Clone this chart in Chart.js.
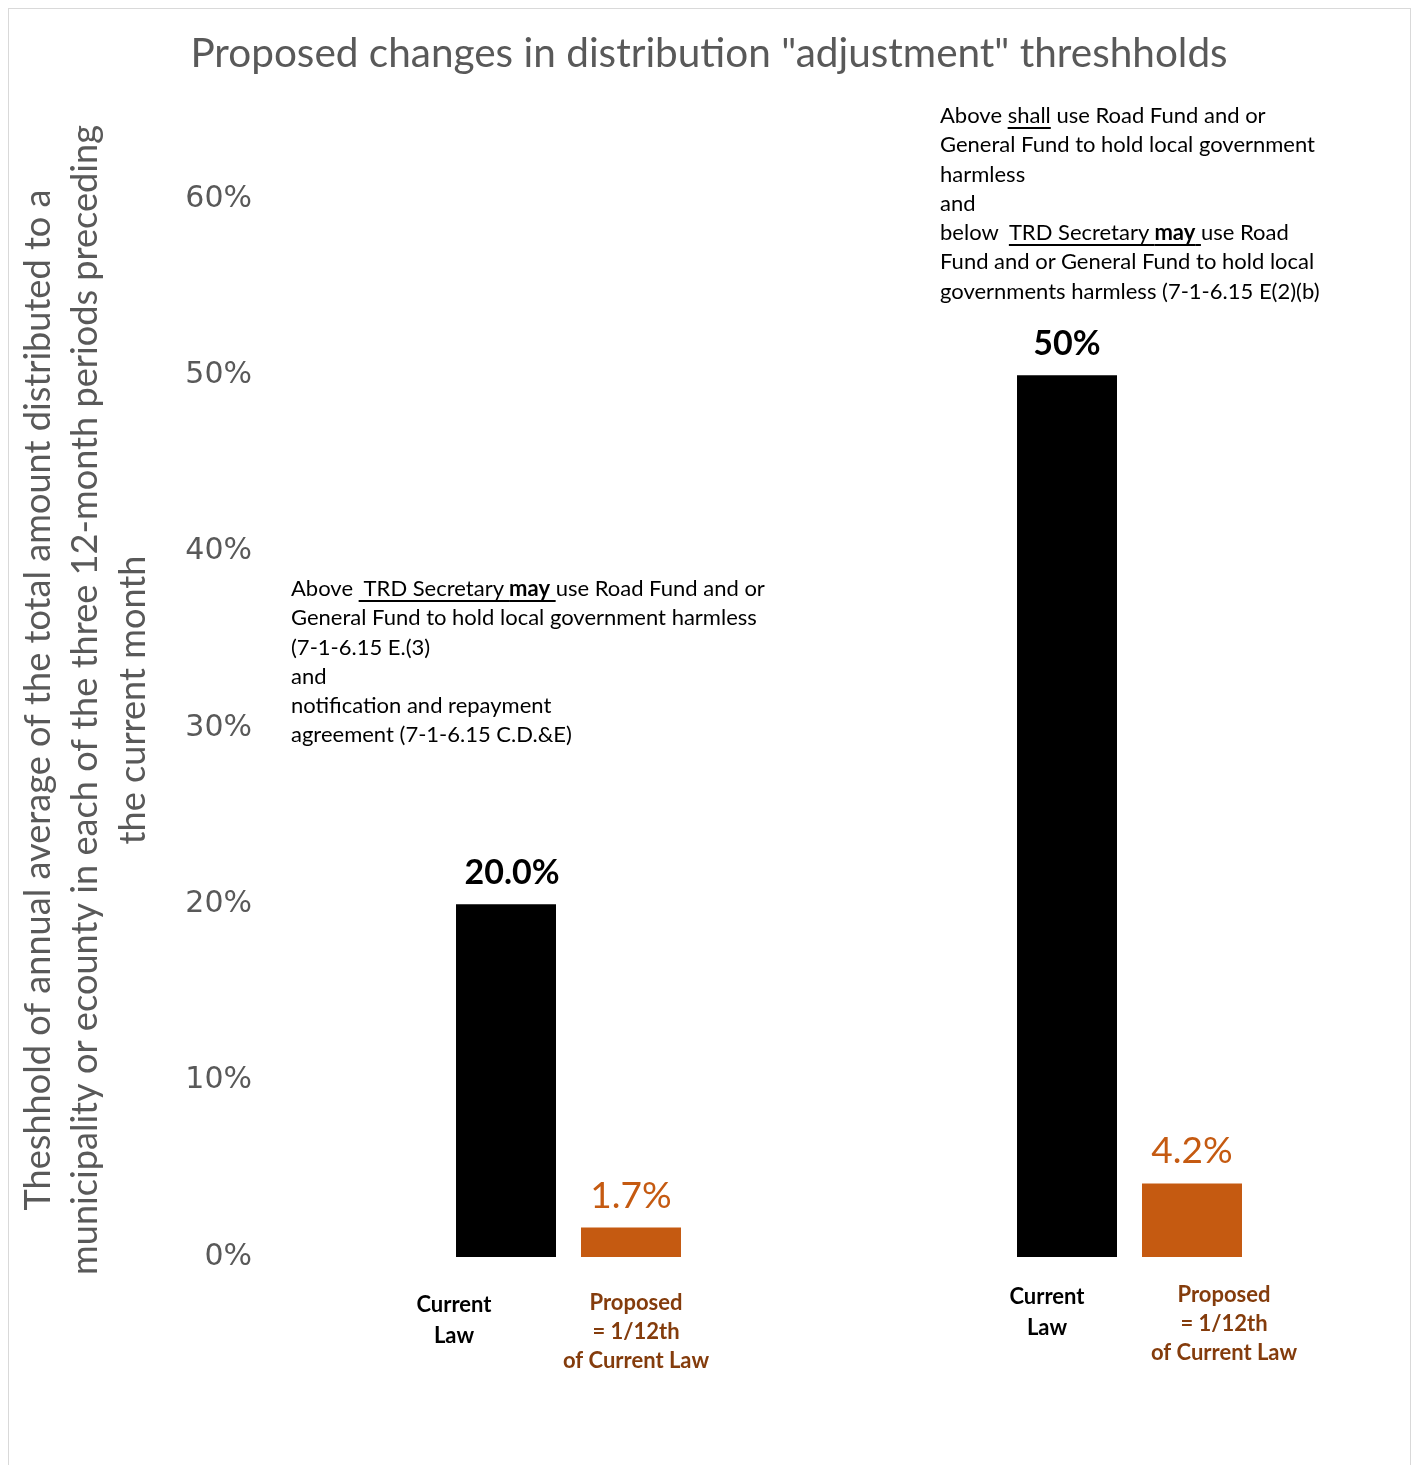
<!DOCTYPE html>
<html>
<head>
<meta charset="utf-8">
<script src="https://cdn.jsdelivr.net/npm/chart.js@4.4.1/dist/chart.umd.min.js"></script>
<style>
  body { margin: 0; background: #fff; }
  #wrap { position: relative; width: 1416px; height: 1465px; overflow: hidden; }
  #frame { position: absolute; left: 8px; top: 8px; width: 1401px; height: 1480px; border: 1px solid #d9d9d9; }
  canvas { position: absolute; left: 0; top: 0; }
  .note { position: absolute; font-family: Lato, sans-serif; font-size: 22px; line-height: 29.3px; color: #000; white-space: nowrap; }
  .note u { text-underline-offset: 4px; }
</style>
</head>
<body>
<div id="wrap">
  <div id="frame"></div>
  <canvas id="myChart" width="1416" height="1465"></canvas>
  <div class="note" style="left:291px;top:573px;">
    Above <u>&nbsp;TRD Secretary <b>may</b>&nbsp;</u>use Road Fund and or<br>
    General Fund to hold local government harmless<br>
    (7-1-6.15 E.(3)<br>
    and<br>
    notification and repayment<br>
    agreement (7-1-6.15 C.D.&amp;E)
  </div>
  <div class="note" style="left:940px;top:100px;">
    Above <u>shall</u> use Road Fund and or<br>
    General Fund to hold local government<br>
    harmless<br>
    and<br>
    below &nbsp;<u>TRD Secretary <b>may</b>&nbsp;</u>use Road<br>
    Fund and or General Fund to hold local<br>
    governments harmless (7-1-6.15 E(2)(b)
  </div>
</div>
<script>
// two thresholds, current law vs proposed (1/12th)
const groups = ['Lower threshold', 'Upper threshold'];
const currentLaw = [20, 50];
const proposed = [1.67, 4.17];
const currentText = ['20.0%', '50%'];
const proposedText = ['1.7%', '4.2%'];
const currentName = ['Current', 'Law'];
const proposedName = ['Proposed', '= 1/12th', 'of Current Law'];
const yTitle = [
  'Theshhold of annual average of the total amount distributed to a',
  'municipality or ecounty in each of the three 12-month periods preceding',
  'the current month'
];

const orange = '#C55A11';
const brown = '#843C0C';
const grey = '#595959';

// hand placed text boxes in the original, so offsets per group
const nameShiftCurrent = [-52, -20];
const nameShiftProposed = [5, 32];
const nameTop = [1312, 1304];
const valueShift = [6, 0];

let ctx = document.getElementById('myChart').getContext('2d');

const barText = {
  id: 'barText',
  afterDatasetsDraw(chart) {
    const c = chart.ctx;
    const cur = chart.getDatasetMeta(0).data;
    const prop = chart.getDatasetMeta(1).data;
    c.save();
    c.textAlign = 'center';
    c.textBaseline = 'alphabetic';

    cur.forEach((bar, i) => {
      c.fillStyle = '#000';
      c.font = 'bold 34px Lato';
      c.fillText(currentText[i], bar.x + valueShift[i], bar.y - 20);
      c.font = 'bold 22px Lato';
      currentName.forEach((line, j) => {
        c.fillText(line, bar.x + nameShiftCurrent[i], nameTop[i] + j * 31);
      });
    });

    prop.forEach((bar, i) => {
      c.fillStyle = orange;
      c.font = '37px Lato';
      c.fillText(proposedText[i], bar.x, bar.y - 20);
      c.fillStyle = brown;
      c.font = 'bold 22px Lato';
      proposedName.forEach((line, j) => {
        c.fillText(line, bar.x + nameShiftProposed[i], nameTop[i] - 2 + j * 29);
      });
    });
    c.restore();
  },
  afterDraw(chart) {
    // rotated, condensed axis title
    const c = chart.ctx;
    c.save();
    c.fillStyle = grey;
    c.font = '36px Lato';
    const k = 1150 / c.measureText(yTitle[1]).width;
    const xs = [50, 97, 145];
    yTitle.forEach((line, j) => {
      c.save();
      c.translate(xs[j], 700);
      c.rotate(-Math.PI / 2);
      c.scale(k, 1);
      c.textAlign = 'center';
      c.textBaseline = 'alphabetic';
      c.fillText(line, 0, 0);
      c.restore();
    });
    c.restore();
  }
};

let myChart = new Chart(ctx, {
  type: 'bar',
  data: {
    labels: groups,
    datasets: [{
      label: 'Current Law',
      data: currentLaw,
      backgroundColor: '#000',
      categoryPercentage: 0.4456,
      barPercentage: 0.8
    }, {
      label: 'Proposed = 1/12th of Current Law',
      data: proposed,
      backgroundColor: orange,
      categoryPercentage: 0.4456,
      barPercentage: 0.8
    }]
  },
  plugins: [barText],
  options: {
    responsive: false,
    animation: false,
    layout: {
      padding: { left: 8, right: 6, top: 0, bottom: 208 }
    },
    plugins: {
      legend: { display: false },
      tooltip: { enabled: false },
      title: {
        display: true,
        text: 'Proposed changes in distribution "adjustment" threshholds',
        color: grey,
        font: { family: 'Lato', size: 40.5, weight: 'normal', lineHeight: 1.2 },
        padding: { top: 30, bottom: 120.4 }
      }
    },
    scales: {
      x: {
        display: false
      },
      y: {
        min: 0,
        max: 60,
        grid: { display: false, drawTicks: false },
        border: { display: false },
        ticks: {
          stepSize: 10,
          padding: 36,
          color: grey,
          font: { family: 'DejaVu Sans', size: 30 },
          callback: (v) => v + '%'
        },
        afterFit: (scale) => { scale.width = 280; }
      }
    }
  }
});
</script>
</body>
</html>
